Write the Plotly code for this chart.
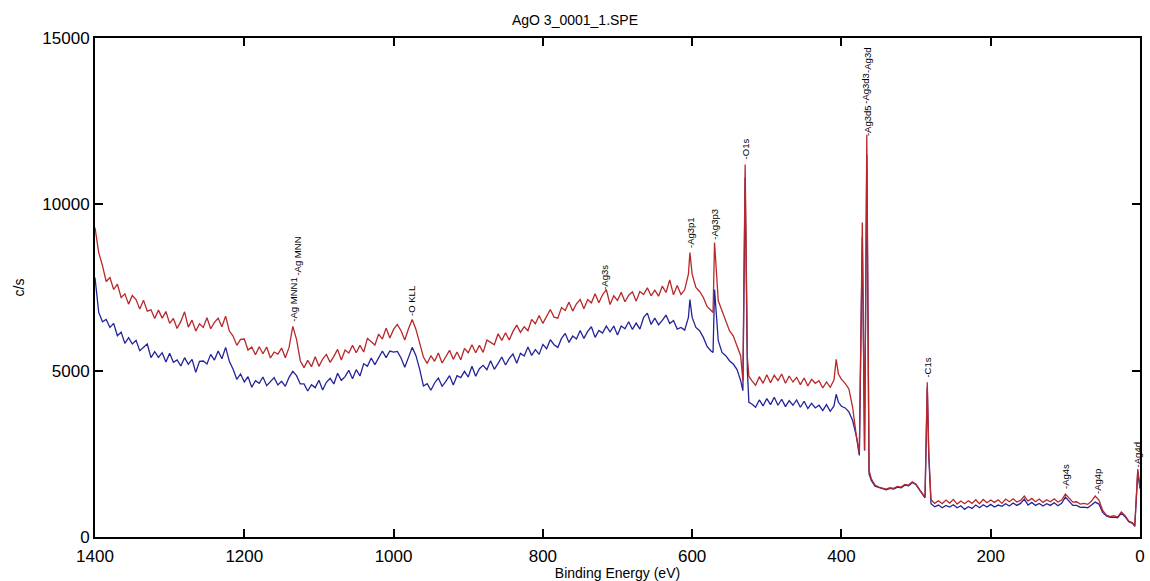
import plotly.graph_objects as go

# Binding energy grid (eV), high to low
binding_energy = [
    1400, 1395, 1390, 1385, 1380, 1375, 1370, 1365, 1360, 1355,
    1350, 1345, 1340, 1335, 1330, 1325, 1320, 1315, 1310, 1305,
    1300, 1295, 1290, 1285, 1280, 1275, 1270, 1265, 1260, 1255,
    1250, 1245, 1240, 1235, 1230, 1225, 1220, 1215, 1210, 1205,
    1200, 1195, 1190, 1185, 1180, 1175, 1170, 1165, 1160, 1155,
    1150, 1145, 1140, 1135, 1130, 1125, 1120, 1115, 1110, 1105,
    1100, 1095, 1090, 1085, 1080, 1075, 1070, 1065, 1060, 1055,
    1050, 1045, 1040, 1035, 1030, 1025, 1020, 1015, 1010, 1005,
    1000, 995, 990, 985, 980, 975, 970, 965, 960, 955,
    950, 945, 940, 935, 930, 925, 920, 915, 910, 905,
    900, 895, 890, 885, 880, 875, 870, 865, 860, 855,
    850, 845, 840, 835, 830, 825, 820, 815, 810, 805,
    800, 795, 790, 785, 780, 775, 770, 765, 760, 755,
    750, 745, 740, 735, 730, 725, 720, 715, 710, 705,
    700, 695, 690, 685, 680, 675, 670, 665, 660, 655,
    650, 645, 640, 635, 630, 625, 620, 615, 610, 605,
    603, 600, 595, 590, 585, 580, 575, 572, 570, 567,
    565, 560, 555, 550, 545, 540, 535, 532, 529, 526, 524,
    520, 515, 510, 505, 500, 495, 490, 485, 480, 475,
    470, 465, 460, 455, 450, 445, 440, 435, 430, 425,
    420, 415, 410,
    407, 404, 400, 395, 390, 385, 380, 376, 372, 369,
    366, 363, 360, 355, 350, 345, 340, 335, 330, 325,
    320, 315, 310, 305, 300, 295, 290, 288, 285, 283,
    280, 275, 270, 265, 260, 255, 250, 245, 240, 235,
    230, 225, 220, 215, 210, 205, 200, 195, 190, 185,
    180, 175, 170, 165, 160, 155, 150, 145, 140, 135,
    130, 125, 120, 115, 110, 105, 100, 95, 90, 85,
    80, 75, 70, 65, 60, 55, 50, 45, 40, 35,
    30, 25, 20, 15, 10,
    7, 3, 0,
]

# Counts per second, upper (red) spectrum
counts_red = [
    9300, 8550, 8160, 7680, 7800, 7440, 7600, 7200, 7310, 7000,
    7260, 7140, 6850, 7120, 6790, 6830, 6570, 6820, 6580, 6780,
    6420, 6570, 6270, 6480, 6770, 6310, 6520, 6190, 6410, 6300,
    6590, 6260, 6450, 6580, 6320, 6640, 6190, 6040, 5760, 5940,
    5950, 5620, 5710, 5480, 5720, 5510, 5710, 5380, 5560, 5500,
    5680, 5390, 5700, 6330, 5940, 5300, 5090, 5310, 5120, 5420,
    5130, 5350, 5490, 5250, 5430, 5640, 5320, 5620, 5530, 5760,
    5540, 5760, 5560, 5970, 5870, 5770, 6100, 5950, 6280, 5980,
    6240, 6390, 6200, 5920, 6260, 6540, 6240, 5850, 5410, 5220,
    5450, 5280, 5530, 5230, 5440, 5610, 5340, 5560, 5330, 5670,
    5540, 5780, 5540, 5760, 5550, 5920, 5850, 5780, 6110, 5910,
    6140, 5920, 6180, 6370, 6150, 6320, 6200, 6540, 6410, 6660,
    6420, 6650, 6840, 6610, 6580, 6900, 6810, 7060, 6790, 7010,
    7140, 6860, 7140, 7040, 7310, 7040, 7280, 7440, 6990, 7250,
    7110, 7360, 7070, 7270, 7370, 7090, 7380, 7290, 7490, 7250,
    7420, 7240, 7540, 7350, 7730, 7280, 7560, 7290, 7430, 7900,
    8550, 7900, 7500, 7380, 7200, 6930, 6800, 6750, 8850, 7800,
    7100, 6800, 6500, 6200, 6050, 5750, 5450, 4700, 11200, 5400, 4830,
    4700, 4560, 4820, 4620, 4880, 4640, 4860, 4700, 4900, 4620,
    4840, 4660, 4800, 4580, 4780, 4540, 4740, 4620, 4700, 4480,
    4660, 4500, 4720,
    5340, 4900, 4740, 4620, 4450, 3900, 3030, 2550, 9450, 2600,
    12090, 2000, 1750, 1560, 1500, 1470, 1440, 1480, 1460, 1520,
    1500, 1580, 1560, 1660, 1590, 1420, 1250, 1200, 4650, 2550,
    1120, 1010, 1090, 1000, 1110, 1020, 1130, 990, 1080, 1000,
    1090, 1010, 1120, 1000, 1130, 1030, 1110, 1040, 1120, 1010,
    1140, 1060, 1150, 1050, 1100, 1230, 1080, 1160, 1060, 1140,
    1040, 1120, 1060, 1150, 1050, 1110, 1290, 1160, 1050, 1060,
    990, 1010, 980, 1080, 1230, 1110, 800, 660, 610, 640,
    600, 750, 640, 480, 430,
    330, 2040, 1500,
]

# Counts per second, lower (blue) spectrum
counts_blue = [
    7800, 6750, 6470, 6540, 6300, 6420, 6050, 6160, 5820, 5990,
    5800, 5910, 5600, 5700, 5800, 5390, 5570, 5400, 5540, 5260,
    5520, 5250, 5320, 5140, 5390, 5190, 5340, 4950, 5280, 5290,
    5200, 5490, 5320, 5590, 5360, 5700, 5280, 5040, 4740, 4900,
    4660, 4820, 4500, 4700, 4620, 4810, 4550, 4670, 4790, 4570,
    4680, 4530, 4800, 4980, 4850, 4600, 4600, 4390, 4580, 4490,
    4710, 4420, 4650, 4770, 4600, 4920, 4710, 4820, 5010, 4760,
    5030, 4840, 5210, 5130, 5380, 5180, 5380, 5590, 5390, 5590,
    5560, 5580, 5380, 5100, 5400, 5700, 5450, 5040, 4540, 4610,
    4410, 4630, 4780, 4530, 4680, 4850, 4570, 4850, 4790, 4980,
    4810, 5130, 4830, 5060, 5160, 5030, 5300, 5040, 5220, 5410,
    5170, 5370, 5500, 5220, 5520, 5440, 5710, 5460, 5630, 5490,
    5790, 5660, 5930, 5780, 5700, 5970, 6120, 5850, 6040, 5950,
    6210, 5970, 6180, 6320, 6000, 6210, 6130, 6340, 6170, 6340,
    6070, 6340, 6260, 6470, 6240, 6430, 6250, 6600, 6730, 6390,
    6580, 6380, 6510, 6670, 6420, 6510, 6250, 6300, 6220, 6600,
    7140, 6600, 6300, 6200, 6000, 5730, 5600, 5550, 7440, 6300,
    5900, 5550, 5450, 5300, 5200, 5040, 4700, 4400, 10800, 5000, 4050,
    4000, 3900, 4120, 3940, 4160, 3980, 4200, 3960, 4140, 3920,
    4100, 3960, 4120, 3900, 4080, 3860, 4020, 3880, 3960, 3800,
    3980, 3780, 3940,
    4290, 4050, 3930, 3880, 3760, 3500, 3030, 2450, 9000, 2600,
    11500, 1900, 1700, 1530, 1490, 1450, 1420, 1460, 1440, 1500,
    1480, 1560, 1540, 1640, 1570, 1400, 1230, 1180, 4500, 2450,
    1000, 910, 960, 880, 950, 900, 970, 880, 940, 830,
    910, 860, 960, 880, 970, 900, 980, 900, 960, 920,
    1000, 930, 1020, 950, 1010, 1140, 960, 1040, 950, 1010,
    930, 1000, 950, 1030, 940, 1010, 1200, 1060, 950, 950,
    890, 900, 880, 960, 1050, 990, 740, 630, 590, 600,
    580, 720, 610, 460, 410,
    320, 1950, 1450,
]

# Peak labels: text, energy, count level where the label starts
peak_labels = ["-Ag MNN1", "-Ag MNN", "-O KLL", "-Ag3s", "-Ag3p1", "-Ag3p3",
               "-O1s", "-Ag3d5", "-Ag3d3", "-Ag3d", "-C1s", "-Ag4s", "-Ag4p", "-Ag4d"]
peak_energy = [1134, 1130, 976, 717, 603, 570, 529, 366, 367, 366, 285, 100, 57, 3]
peak_level = [6400, 7800, 6600, 7380, 8640, 8880, 11280, 12000, 12950, 13900,
              4740, 1380, 1230, 2040]

x_ticks = [1400, 1200, 1000, 800, 600, 400, 200, 0]
y_ticks = [0, 5000, 10000, 15000]

FONT = "Liberation Sans, Arial, sans-serif"

fig = go.Figure()
fig.add_trace(go.Scatter(x=binding_energy, y=counts_blue, mode="lines",
                         line=dict(color="#23239a", width=1.3), showlegend=False))
fig.add_trace(go.Scatter(x=binding_energy, y=counts_red, mode="lines",
                         line=dict(color="#b8282a", width=1.3), showlegend=False))

for txt, ex, lv in zip(peak_labels, peak_energy, peak_level):
    fig.add_annotation(x=ex, y=lv, text=txt, textangle=-90, showarrow=False,
                       xanchor="center", yanchor="bottom",
                       font=dict(family=FONT, size=9.5, color="black"))

axis_common = dict(
    showline=True, linecolor="black", linewidth=2, mirror="ticks",
    ticks="inside", ticklen=8, tickwidth=2, tickcolor="black",
    showgrid=False, zeroline=False, tickformat="d",
    tickfont=dict(family=FONT, size=17, color="black"),
)

fig.update_layout(
    width=1150, height=581,
    margin=dict(l=95, r=5, t=38, b=43),
    paper_bgcolor="white", plot_bgcolor="white",
    title=dict(text="AgO 3_0001_1.SPE", x=0.5, xanchor="center",
               y=0.965, yanchor="middle",
               font=dict(family=FONT, size=14, color="black")),
    xaxis=dict(range=[1400, 0], tickvals=x_ticks, ticklabelstandoff=3,
               title=dict(text="Binding Energy (eV)", standoff=0,
                          font=dict(family=FONT, size=14, color="black")),
               **axis_common),
    yaxis=dict(range=[0, 15000], tickvals=y_ticks,
               title=dict(text="c/s", standoff=14,
                          font=dict(family=FONT, size=14, color="black")),
               **axis_common),
)

fig.write_html("out.html")
